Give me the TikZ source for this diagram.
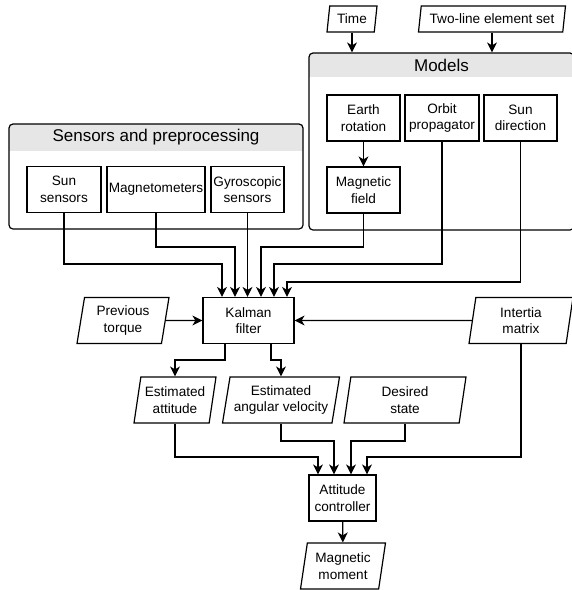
\documentclass[tikz,border=0pt]{standalone}
\usepackage{fontspec}
\setmainfont{Liberation Sans}
\usetikzlibrary{shapes.geometric,arrows.meta}
\definecolor{headgray}{HTML}{E6E6E6}
\tikzset{
	txt/.style={font=\fontsize{13.6}{16.5}\selectfont, align=center, inner sep=0.5pt},
	proc/.style={txt, draw, line width=1.2pt, minimum width=#1, minimum height=46},
	proc/.default=73,
	data/.style={txt, draw, line width=1.2pt, trapezium, trapezium left angle=76, trapezium right angle=104, trapezium stretches body, minimum width=#1, minimum height=46},
	data/.default=90,
	group/.style={draw, line width=1.2pt, rounded corners=4, inner sep=0pt},
	title/.style={font=\fontsize{17}{20}\selectfont, inner sep=1pt},
	flow/.style={line width=1.2pt, -{Stealth[length=10pt,width=10pt,inset=3pt]}}
}
\begin{document}
\begin{tikzpicture}[x=1pt,y=-1pt]
		%%%%% START %%%%%
		\useasboundingbox (0,0) rectangle (572,590);
		\clip (0,0) rectangle (572,590);
		
		% group headers
		\begin{scope}
			\clip[rounded corners=4] (309,53) rectangle (574,230);
			\fill[headgray] (309,53) rectangle (574,77);
		\end{scope}
		\begin{scope}
			\clip[rounded corners=4] (9,124) rectangle (303,229);
			\fill[headgray] (9,124) rectangle (303,151);
		\end{scope}
		\node[group, minimum width=265, minimum height=177] (models) at (441.5,141.5) {};
		\node[group, minimum width=294, minimum height=105] (sensors) at (156,176.5) {};
		\node[title] (modtitle) at (441.5,65) {Models};
		\node[title] (senstitle) at (156,137.5) {Sensors and preprocessing};
		
		% inputs on top
		\node[data=50, minimum height=26] (time) at (352,19) {Time};
		\node[data=147, minimum height=26] (tle) at (492,19) {Two-line element set};
		
		% models
		\node[proc] (earth) at (363.5,118) {Earth\\rotation};
		\node[proc=74] (orbit) at (442,118) {Orbit\\propagator};
		\node[proc] (sundir) at (520.5,118) {Sun\\direction};
		\node[proc] (magfield) at (363.5,190) {Magnetic\\field};
		
		% sensors
		\node[proc=74] (sunsens) at (64,189.5) {Sun\\sensors};
		\node[proc=98] (magneto) at (156,189.5) {Magnetometers};
		\node[proc] (gyro) at (247.5,189.5) {Gyroscopic\\sensors};
		
		% estimation
		\node[proc=91] (kalman) at (248.5,320.5) {Kalman\\filter};
		\node[data=92] (prevtorque) at (123,320.5) {Previous\\torque};
		\node[data=104] (inertia) at (521,320.5) {Intertia\\matrix};
		\node[data=82] (estatt) at (175,400) {Estimated\\attitude};
		\node[data=117] (estvel) at (281,400) {Estimated\\angular velocity};
		\node[data=122] (desired) at (405,400) {Desired\\state};
		
		% control
		\node[proc=67] (controller) at (342.5,498) {Attitude\\controller};
		\node[data=85] (magmom) at (343,566) {Magnetic\\moment};
		
		% bends
		\coordinate (j1) at (222,264);
		\coordinate (j2) at (235,247);
		\coordinate (j4) at (261,247);
		\coordinate (j5) at (274,264);
		\coordinate (j6) at (287,282);
		\coordinate (k1) at (225,360);
		\coordinate (k2) at (271,360);
		\coordinate (c1) at (318,457);
		\coordinate (c2) at (334,441);
		\coordinate (c3) at (351,441);
		\coordinate (c4) at (367,457);
		
		% connectors
		\draw[flow] (time.south) -- (time.south |- models.north);
		\draw[flow] (tle.south) -- (tle.south |- models.north);
		\draw[flow] (earth) -- (magfield);
		
		\draw[flow] (sunsens.south) |- (j1) -- (j1 |- kalman.north);
		\draw[flow] (magneto.south) |- (j2) -- (j2 |- kalman.north);
		\draw[flow] (gyro.south) -- (gyro.south |- kalman.north);
		\draw[flow] (magfield.south) |- (j4) -- (j4 |- kalman.north);
		\draw[flow] (orbit.south) |- (j5) -- (j5 |- kalman.north);
		\draw[flow] (sundir.south) |- (j6) -- (j6 |- kalman.north);
		
		\draw[flow] (prevtorque) -- (kalman);
		\draw[flow] (inertia) -- (kalman);
		
		\draw[flow] (k1 |- kalman.south) -- (k1) -| (estatt.north);
		\draw[flow] (k2 |- kalman.south) -- (k2) -| (estvel.north);
		
		\draw[flow] (estatt.south) |- (c1) -- (c1 |- controller.north);
		\draw[flow] (estvel.south) |- (c2) -- (c2 |- controller.north);
		\draw[flow] (desired.south) |- (c3) -- (c3 |- controller.north);
		\draw[flow] (inertia.south) |- (c4) -- (c4 |- controller.north);
		
		\draw[flow] (controller) -- (magmom);
		%%%%% END %%%%%
\end{tikzpicture}
\end{document}
